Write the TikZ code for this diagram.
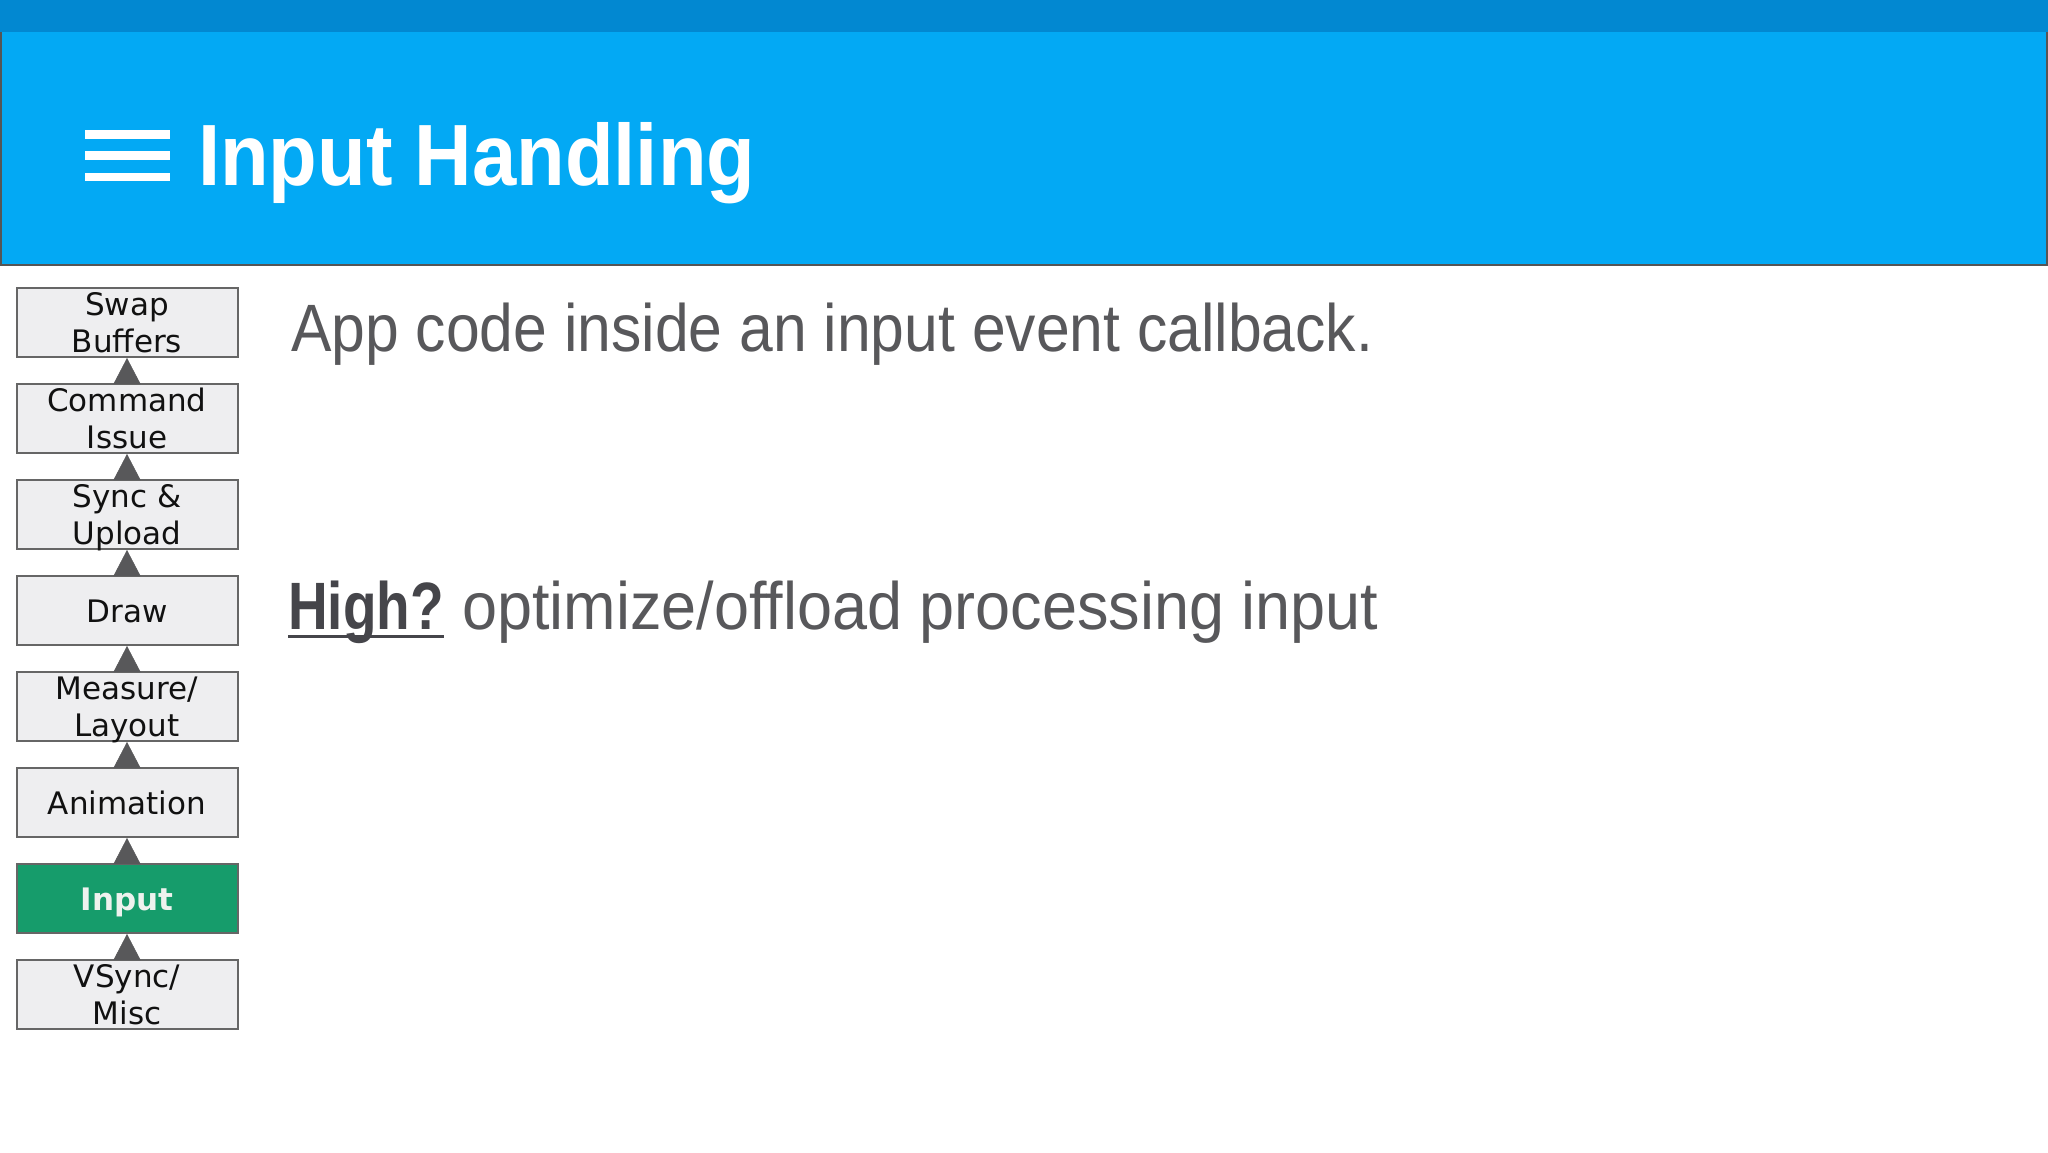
\documentclass[tikz,border=0pt]{standalone}
\usepackage{fontspec}
\setmainfont{DejaVu Sans}
\newfontfamily\titlefont[FakeStretch=0.915]{Liberation Sans}
\newfontfamily\bodyfontA[FakeStretch=0.905]{Liberation Sans}
\newfontfamily\bodyfontB[FakeStretch=0.94]{Liberation Sans}
\newfontfamily\highfont[FakeStretch=0.82]{Liberation Sans}
\usetikzlibrary{arrows.meta}
\definecolor{hdrdark}{HTML}{0288D1}
\definecolor{hdr}{HTML}{03A9F4}
\definecolor{hdredge}{HTML}{555555}
\definecolor{boxfill}{HTML}{EEEEF0}
\definecolor{boxedge}{HTML}{666666}
\definecolor{arrowc}{HTML}{58585A}
\definecolor{inputgreen}{HTML}{169C6B}
\definecolor{inputtext}{HTML}{EEF2EE}
\definecolor{bodygray}{HTML}{58585B}
\definecolor{highgray}{HTML}{45454A}
\definecolor{boxtext}{HTML}{111111}
\tikzset{
  stagebox/.style={draw=boxedge, line width=2pt, fill=boxfill, minimum width=221pt,
    minimum height=69pt, inner sep=0pt, anchor=north, text=boxtext,
    font=\fontsize{31}{37}\selectfont},
  twoline/.style={text height=25pt, text depth=39pt},
  oneline/.style={text height=30pt, text depth=6pt},
  inputbox/.style={stagebox, fill=inputgreen, text=inputtext, font=\bfseries\fontsize{31}{37}\selectfont},
  tri/.style={-{Triangle[width=27pt,length=26pt]}, draw=arrowc, fill=arrowc, line width=0.5pt},
  bodytext/.style={anchor=base west, inner sep=0pt, text=bodygray},
  hamb/.style={fill=white}
}
\newcommand{\twol}[2]{\begin{tabular}[t]{@{}c@{}}#1\\#2\end{tabular}}
\begin{document}
\begin{tikzpicture}[x=1pt,y=-1pt]
\useasboundingbox (0,0) rectangle (2048,1152);
\fill[white] (0,0) rectangle (2048,1152);
% header
\fill[hdrdark] (0,0) rectangle (2048,32);
\fill[hdr] (0,32) rectangle (2048,265);
\draw[hdredge, line width=2pt] (1,32) -- (1,265) -- (2047,265) -- (2047,32);
% hamburger icon
\fill[hamb] (85,130) rectangle (170,138.5);
\fill[hamb] (85,151) rectangle (170,159.5);
\fill[hamb] (85,172.5) rectangle (170,181);
\node[anchor=base west, inner sep=0pt, text=white,
      font=\titlefont\bfseries\fontsize{87}{87}\selectfont] (title) at (198,185) {Input Handling};
% pipeline boxes
\node[stagebox, twoline] (sb)  at (127,287) {\twol{Swap}{Buffers}};
\node[stagebox, twoline] (ci)  at (127,383) {\twol{Command}{Issue}};
\node[stagebox, twoline] (su)  at (127,479) {\twol{Sync \&}{Upload}};
\node[stagebox, oneline] (dr)  at (127,575) {Draw};
\node[stagebox, twoline] (ml)  at (127,671) {\twol{Measure/}{Layout}};
\node[stagebox, oneline] (an)  at (127,767) {Animation};
\node[inputbox, oneline] (inp) at (127,863) {Input};
\node[stagebox, twoline] (vs)  at (127,959) {\twol{VSync/}{Misc}};
% arrows
\draw[tri] (ci.north) -- (sb.south);
\draw[tri] (su.north) -- (ci.south);
\draw[tri] (dr.north) -- (su.south);
\draw[tri] (ml.north) -- (dr.south);
\draw[tri] (an.north) -- (ml.south);
\draw[tri] (inp.north) -- (an.south);
\draw[tri] (vs.north) -- (inp.south);
% body text
\node[bodytext, font=\bodyfontA\fontsize{67}{67}\selectfont] (l1) at (291,351) {App code inside an input event callback.};
\node[anchor=base west, inner sep=0pt, text=highgray,
      font=\highfont\bfseries\fontsize{67}{67}\selectfont] (high) at (288,629) {High?};
\draw[highgray, line width=3pt] ([yshift=-7pt]high.base west) -- ([yshift=-7pt]high.base east);
\node[bodytext, font=\bodyfontB\fontsize{67}{67}\selectfont] (l2) at ([xshift=18pt]high.base east) {optimize/offload processing input};
\end{tikzpicture}
\end{document}
